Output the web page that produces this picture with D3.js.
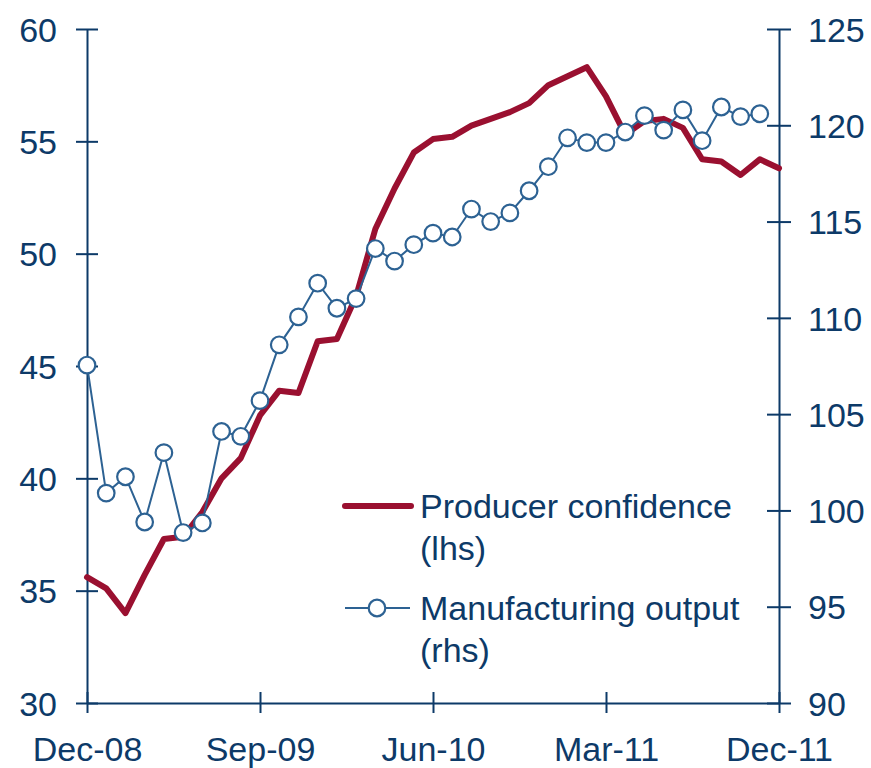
<!DOCTYPE html>
<html>
<head>
<meta charset="utf-8">
<script src="https://cdn.jsdelivr.net/npm/d3@7"></script>
<style>
  html, body { margin: 0; padding: 0; background: #fff; }
  svg { display: block; }
  text { font-family: "Liberation Sans", Arial, sans-serif; }
</style>
</head>
<body>
<svg id="chart" width="871" height="768"></svg>
<script>
const months = ["Dec-08","Jan-09","Feb-09","Mar-09","Apr-09","May-09","Jun-09","Jul-09","Aug-09","Sep-09","Oct-09","Nov-09",
  "Dec-09","Jan-10","Feb-10","Mar-10","Apr-10","May-10","Jun-10","Jul-10","Aug-10","Sep-10","Oct-10","Nov-10",
  "Dec-10","Jan-11","Feb-11","Mar-11","Apr-11","May-11","Jun-11","Jul-11","Aug-11","Sep-11","Oct-11","Nov-11","Dec-11"];
const producerConfidence = [35.6, 35.1, 34.0, 35.7, 37.3, 37.4, 38.5, 40.0, 40.9, 42.8, 43.9, 43.8, 46.1, 46.2, 48.1, 51.1,
  52.9, 54.5, 55.1, 55.2, 55.7, 56.0, 56.3, 56.7, 57.5, 57.9, 58.3, 57.0, 55.3, 55.9, 56.0, 55.6, 54.2, 54.1, 53.5, 54.2, 53.8];
const manufacturingOutput = [107.55, 100.9, 101.75, 99.4, 103.0, 98.85, 99.35, 104.1, 103.85, 105.7, 108.6, 110.05,
  111.8, 110.5, 111.0, 113.6, 112.95, 113.8, 114.4, 114.2, 115.65, 115.0, 115.45, 116.6, 117.85, 119.35,
  119.1, 119.1, 119.65, 120.5, 119.75, 120.8, 119.2, 120.95, 120.45, 120.6];
const xTickLabels = ["Dec-08","Sep-09","Jun-10","Mar-11","Dec-11"];
const leftTicks = [30, 35, 40, 45, 50, 55, 60];
const rightTicks = [90, 95, 100, 105, 110, 115, 120, 125];
const legendLabels = [["Producer confidence", "(lhs)"], ["Manufacturing output", "(rhs)"]];

const navy = "#0d3a68", red = "#9a1030", blue = "#2d6293";
const L = 87, R = 779, T = 29, B = 703;
const svg = d3.select("#chart");

const x = d3.scalePoint().domain(months).range([L, R]);
const yL = d3.scaleLinear().domain([30, 60]).range([B, T]);
const yR = d3.scaleLinear().domain([90, 125]).range([B, T]);

// Axes (drawn first, under the series)
function styleAxis(g) {
  g.select(".domain").attr("stroke", navy).attr("stroke-width", 2);
  g.selectAll(".tick line").attr("stroke", navy).attr("stroke-width", 2);
  g.selectAll(".tick text").attr("fill", navy).attr("font-size", 34)
    .attr("font-family", '"Liberation Sans", Arial, sans-serif');
}
const gl = svg.append("g").attr("transform", `translate(${L},0)`)
  .call(d3.axisLeft(yL).tickValues(leftTicks).tickSize(11).tickPadding(19).tickSizeOuter(0));
styleAxis(gl);
gl.selectAll(".tick line").attr("x1", -11).attr("x2", 11);
gl.selectAll(".tick text").attr("dy", "0.36em");

const gr = svg.append("g").attr("transform", `translate(${R},0)`)
  .call(d3.axisRight(yR).tickValues(rightTicks).tickSize(12).tickPadding(17).tickSizeOuter(0));
styleAxis(gr);
gr.selectAll(".tick line").attr("x1", -12).attr("x2", 12);
gr.selectAll(".tick text").attr("dy", "0.36em");

const gb = svg.append("g").attr("transform", `translate(0,${B})`)
  .call(d3.axisBottom(x).tickValues(xTickLabels).tickSize(10).tickPadding(24).tickSizeOuter(0));
styleAxis(gb);
gb.selectAll(".tick line").attr("y1", -11).attr("y2", 10);
gb.selectAll(".tick text").attr("dy", "0.71em");

// Producer confidence (red, under)
const redLine = d3.line().x((d, i) => x(months[i])).y(d => yL(d));
svg.append("path").datum(producerConfidence)
  .attr("d", redLine).attr("fill", "none").attr("stroke", red)
  .attr("stroke-width", 6).attr("stroke-linejoin", "round").attr("stroke-linecap", "round");

// Manufacturing output (blue with markers)
const blueLine = d3.line().x((d, i) => x(months[i])).y(d => yR(d));
svg.append("path").datum(manufacturingOutput)
  .attr("d", blueLine).attr("fill", "none").attr("stroke", blue).attr("stroke-width", 2);
svg.append("g").selectAll("circle").data(manufacturingOutput).join("circle")
  .attr("cx", (d, i) => x(months[i])).attr("cy", d => yR(d)).attr("r", 8.3)
  .attr("fill", "#fff").attr("stroke", blue).attr("stroke-width", 2.2);

// Legend
const lg = svg.append("g");
lg.append("line").attr("x1", 345).attr("x2", 411).attr("y1", 506).attr("y2", 506)
  .attr("stroke", red).attr("stroke-width", 6).attr("stroke-linecap", "round");
lg.append("line").attr("x1", 345).attr("x2", 410).attr("y1", 608).attr("y2", 608)
  .attr("stroke", blue).attr("stroke-width", 2);
lg.append("circle").attr("cx", 377).attr("cy", 608).attr("r", 8.3)
  .attr("fill", "#fff").attr("stroke", blue).attr("stroke-width", 2.2);
const baselines = [[518, 560], [620, 662]];
legendLabels.forEach((lines, k) => {
  lines.forEach((t, j) => {
    lg.append("text").attr("x", 420).attr("y", baselines[k][j])
      .attr("fill", navy).attr("font-size", 34).text(t);
  });
});
</script>
</body>
</html>
